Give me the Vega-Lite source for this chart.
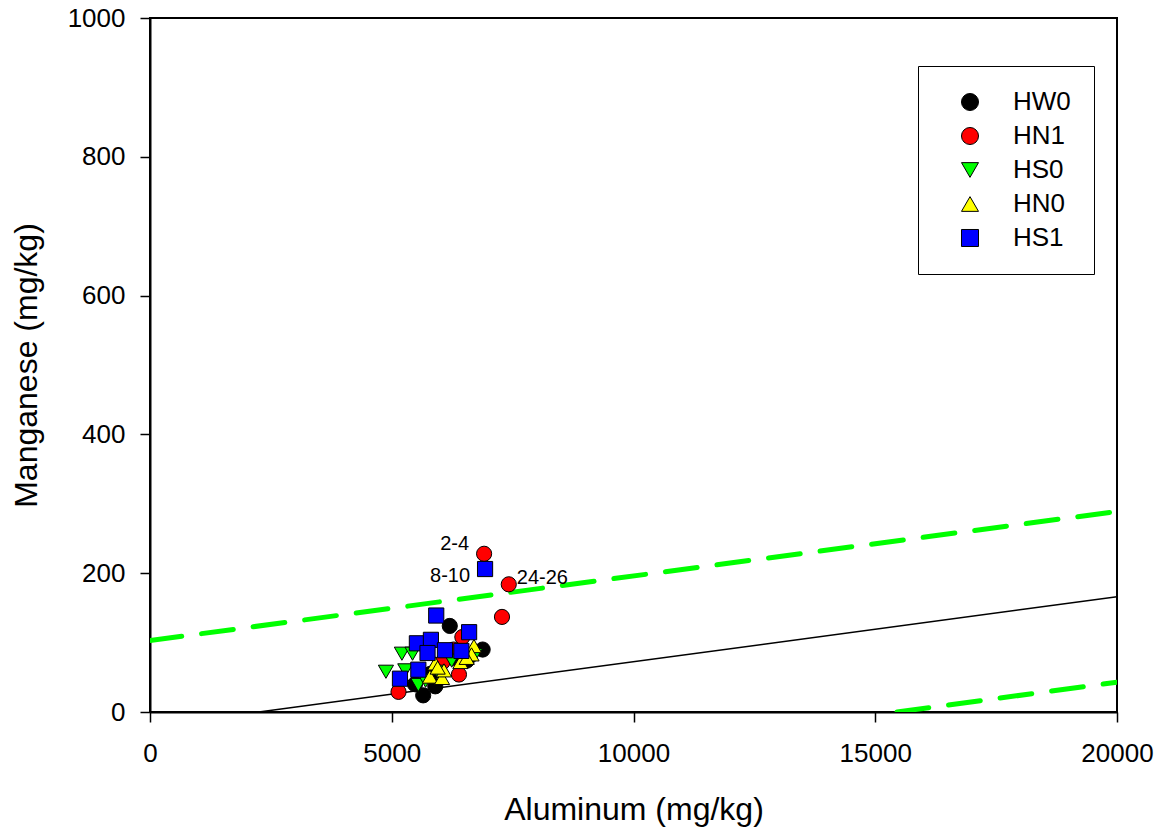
{
  "$schema": "https://vega.github.io/schema/vega-lite/v6.json",
  "width": 967,
  "height": 694,
  "autosize": {"type": "none"},
  "padding": {"left": 150, "top": 18, "right": 46, "bottom": 118},
  "background": "white",
  "config": {
    "font": "Liberation Sans",
    "view": {"stroke": "black", "strokeWidth": 2},
    "axis": {"grid": false, "domainColor": "black", "domainWidth": 2, "tickColor": "black", "tickWidth": 1.5, "tickSize": 10, "labelColor": "black", "titleColor": "black", "labelFont": "Liberation Sans", "titleFont": "Liberation Sans", "labelFontSize": 26, "titleFontSize": 32, "titleFontWeight": "normal"}
  },
  "datasets": {
    "points": [
      {"site": "HW0", "al": 6200, "mn": 124},
      {"site": "HW0", "al": 6880, "mn": 90},
      {"site": "HW0", "al": 5650, "mn": 24},
      {"site": "HW0", "al": 5900, "mn": 37},
      {"site": "HW0", "al": 5480, "mn": 40},
      {"site": "HW0", "al": 6300, "mn": 78},
      {"site": "HW0", "al": 5800, "mn": 55},
      {"site": "HW0", "al": 6550, "mn": 74},
      {"site": "HN1", "al": 6910, "mn": 228, "label": "2-4"},
      {"site": "HN1", "al": 7420, "mn": 184, "label": "24-26"},
      {"site": "HN1", "al": 7280, "mn": 137},
      {"site": "HN1", "al": 6460, "mn": 108},
      {"site": "HN1", "al": 6390, "mn": 54},
      {"site": "HN1", "al": 5140, "mn": 29},
      {"site": "HN1", "al": 6050, "mn": 72},
      {"site": "HN1", "al": 6280, "mn": 90},
      {"site": "HS0", "al": 4880, "mn": 58},
      {"site": "HS0", "al": 5210, "mn": 84},
      {"site": "HS0", "al": 5430, "mn": 84},
      {"site": "HS0", "al": 5280, "mn": 60},
      {"site": "HS0", "al": 5550, "mn": 39},
      {"site": "HS0", "al": 6240, "mn": 74},
      {"site": "HS0", "al": 6720, "mn": 82},
      {"site": "HS0", "al": 5950, "mn": 58},
      {"site": "HS0", "al": 5700, "mn": 45},
      {"site": "HN0", "al": 6700, "mn": 95},
      {"site": "HN0", "al": 6650, "mn": 83},
      {"site": "HN0", "al": 6420, "mn": 72},
      {"site": "HN0", "al": 5900, "mn": 70},
      {"site": "HN0", "al": 5790, "mn": 51},
      {"site": "HN0", "al": 6040, "mn": 49},
      {"site": "HN0", "al": 6080, "mn": 60},
      {"site": "HN0", "al": 6550, "mn": 78},
      {"site": "HN0", "al": 5950, "mn": 64},
      {"site": "HS1", "al": 6930, "mn": 206, "label": "8-10"},
      {"site": "HS1", "al": 5920, "mn": 139},
      {"site": "HS1", "al": 6600, "mn": 115},
      {"site": "HS1", "al": 5520, "mn": 99},
      {"site": "HS1", "al": 5810, "mn": 104},
      {"site": "HS1", "al": 5740, "mn": 85},
      {"site": "HS1", "al": 6100, "mn": 89},
      {"site": "HS1", "al": 6440, "mn": 88},
      {"site": "HS1", "al": 5550, "mn": 61},
      {"site": "HS1", "al": 5170, "mn": 48}
    ],
    "lines": [
      {"line": "fit", "al": 2250, "mn": 0},
      {"line": "fit", "al": 20000, "mn": 166},
      {"line": "upper", "al": 0, "mn": 103},
      {"line": "upper", "al": 20000, "mn": 289},
      {"line": "lower", "al": 15450, "mn": 0},
      {"line": "lower", "al": 20000, "mn": 43}
    ]
  },
  "encoding": {
    "x": {"field": "al", "type": "quantitative", "title": "Aluminum (mg/kg)",
      "scale": {"domain": [0, 20000], "nice": false, "zero": false},
      "axis": {"values": [0, 5000, 10000, 15000, 20000], "format": "d", "labelPadding": 18, "titlePadding": 28, "labelFlush": false}},
    "y": {"field": "mn", "type": "quantitative", "title": "Manganese (mg/kg)",
      "scale": {"domain": [0, 1000], "nice": false, "zero": false},
      "axis": {"values": [0, 200, 400, 600, 800, 1000], "format": "d", "labelPadding": 15, "titlePadding": 24, "labelFlush": false}}
  },
  "layer": [
    {
      "data": {"name": "lines"},
      "transform": [{"filter": "datum.line == 'fit'"}],
      "mark": {"type": "line", "color": "black", "strokeWidth": 1.5, "clip": true}
    },
    {
      "data": {"name": "lines"},
      "transform": [{"filter": "datum.line != 'fit'"}],
      "mark": {"type": "line", "color": "#00ff00", "strokeWidth": 5, "strokeDash": [32, 20], "strokeCap": "round", "clip": true},
      "encoding": {"detail": {"field": "line", "type": "nominal"}}
    },
    {
      "data": {"name": "points"},
      "mark": {"type": "point", "filled": true, "stroke": "black", "strokeWidth": 1, "size": 230, "opacity": 1},
      "encoding": {
        "color": {"field": "site", "type": "nominal",
          "scale": {"domain": ["HW0", "HN1", "HS0", "HN0", "HS1"], "range": ["#000000", "#ff0000", "#00ff00", "#ffff00", "#0000ff"]},
          "legend": {"title": null, "orient": "none", "legendX": 768, "legendY": 48, "fillColor": "white", "strokeColor": "black", "padding": 23, "symbolOffset": 16, "labelOffset": 30, "labelFontSize": 26, "labelFont": "Liberation Sans", "labelColor": "black", "symbolSize": 290, "symbolStrokeColor": "black", "symbolStrokeWidth": 1, "rowPadding": 8}},
        "shape": {"field": "site", "type": "nominal",
          "scale": {"domain": ["HW0", "HN1", "HS0", "HN0", "HS1"], "range": ["circle", "circle", "triangle-down", "triangle-up", "square"]},
          "legend": null}
      }
    },
    {
      "data": {"name": "points"},
      "transform": [{"filter": "datum.label == '2-4'"}],
      "mark": {"type": "text", "align": "right", "baseline": "middle", "dx": -15, "dy": -10, "fontSize": 20, "font": "Liberation Sans", "color": "black"},
      "encoding": {"text": {"field": "label"}}
    },
    {
      "data": {"name": "points"},
      "transform": [{"filter": "datum.label == '8-10'"}],
      "mark": {"type": "text", "align": "right", "baseline": "middle", "dx": -15, "dy": 7, "fontSize": 20, "font": "Liberation Sans", "color": "black"},
      "encoding": {"text": {"field": "label"}}
    },
    {
      "data": {"name": "points"},
      "transform": [{"filter": "datum.label == '24-26'"}],
      "mark": {"type": "text", "align": "left", "baseline": "middle", "dx": 8, "dy": -6, "fontSize": 20, "font": "Liberation Sans", "color": "black"},
      "encoding": {"text": {"field": "label"}}
    }
  ]
}
